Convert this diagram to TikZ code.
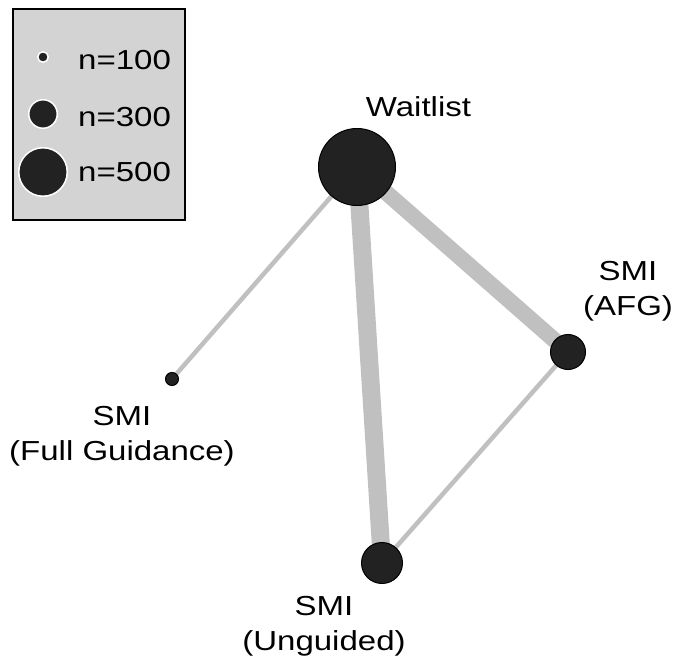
\documentclass[tikz,border=0pt]{standalone}
\usepackage{fontspec}
\setmainfont{Liberation Sans}[FakeStretch=1.2]
\usetikzlibrary{backgrounds}
\definecolor{nodefill}{HTML}{222222}
\definecolor{edgegray}{HTML}{C0C0C0}
\definecolor{legendgray}{HTML}{D3D3D3}
\tikzstyle{arm} = [circle,fill=nodefill,draw=black,line width=1pt,inner sep=0pt]
\tikzstyle{legdot} = [circle,fill=nodefill,draw=white,line width=1.5pt,inner sep=0pt]
\tikzstyle{edge} = [draw=edgegray]
\tikzstyle{lab} = [inner sep=0pt,anchor=base,align=center,font=\fontsize{27.5}{35}\selectfont]

\begin{document}
\begin{tikzpicture}[x=1pt,y=-1pt]

    \useasboundingbox (0,0) rectangle (683,663); % fixes the page size

    % legend
    \draw[fill=legendgray,line width=1.5pt] (13,9) rectangle (185,220);
    \foreach \d/\y/\b/\n in {10.5/57/70/100,28.5/114/127/300,48.5/172/182/500}{% one row per size
      \node[legdot,minimum size=\d pt] (leg\n) at (43,\y) {};
      \node[lab,anchor=base west] (legtxt\n) at (78,\b) {n=\n};
    }

    % treatment arms
    \node[arm,minimum size=77pt] (wait) at (357,167) {};
    \node[arm,minimum size=35pt] (afg) at (568,352) {};
    \node[arm,minimum size=41pt] (ung) at (382,563) {};
    \node[arm,minimum size=13pt] (full) at (172,379) {};

    % labels (base = baseline of the second line)
    \node[lab] (waitlab) at (418.5,117) {Waitlist};
    \node[lab] (afglab) at (628,315) {SMI\\(AFG)};
    \node[lab] (fulllab) at (122,460) {SMI\\(Full Guidance)};
    \node[lab] (unglab) at (324,650) {SMI\\(Unguided)};

    % comparisons, behind the arms
    \begin{scope}[on background layer]
      \draw[edge,line width=4.5pt] (wait.center) -- (full.center);
      \draw[edge,line width=18pt] (wait.center) -- (ung.center);
      \draw[edge,line width=16pt] (wait.center) -- (afg.center);
      \draw[edge,line width=4.5pt] (afg.center) -- (ung.center);
    \end{scope}

\end{tikzpicture}
\end{document}
